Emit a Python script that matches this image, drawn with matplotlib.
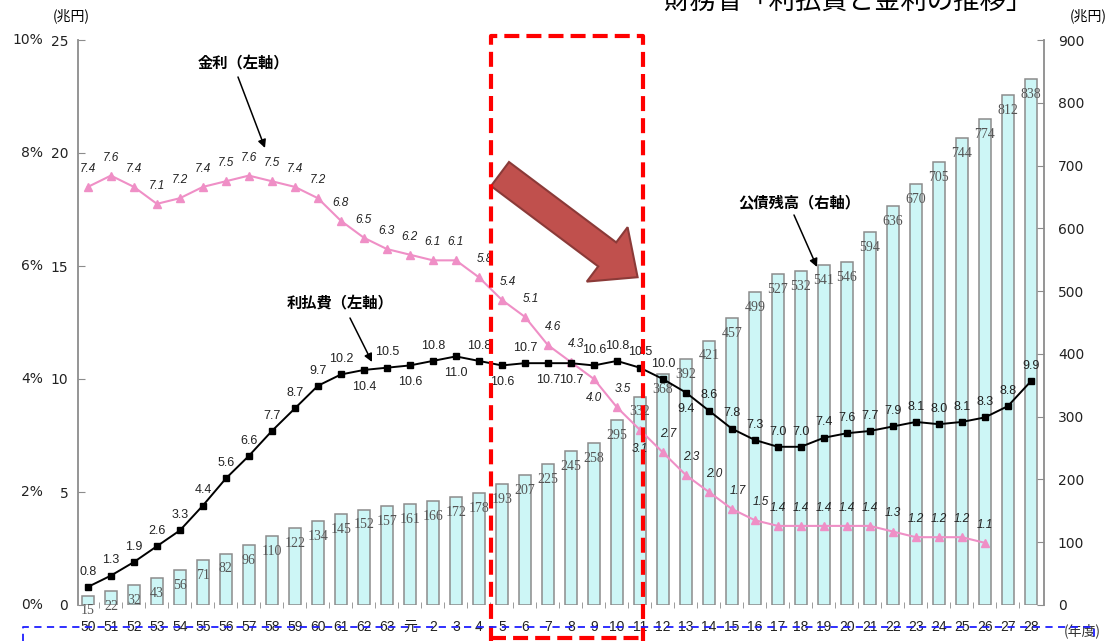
import numpy as np
import matplotlib
matplotlib.use("Agg")
import matplotlib.pyplot as plt
from matplotlib.lines import Line2D
from matplotlib.patches import FancyArrow

# fiscal years (Showa 50-63, Heisei 1-28)
years = [str(y) for y in range(50, 64)] + ["元"] + [str(y) for y in range(2, 29)]

# outstanding government bonds (trillion yen, right axis)
debt = [15, 22, 32, 43, 56, 71, 82, 96, 110, 122, 134, 145, 152, 157,
        161, 166, 172, 178, 193, 207, 225, 245, 258, 295, 332, 368, 392, 421,
        457, 499, 527, 532, 541, 546, 594, 636, 670, 705, 744, 774, 812, 838]

# interest payments (trillion yen, left axis)
interest_paid = [0.8, 1.3, 1.9, 2.6, 3.3, 4.4, 5.6, 6.6, 7.7, 8.7, 9.7, 10.2, 10.4, 10.5,
                 10.6, 10.8, 11.0, 10.8, 10.6, 10.7, 10.7, 10.7, 10.6, 10.8, 10.5, 10.0,
                 9.4, 8.6, 7.8, 7.3, 7.0, 7.0, 7.4, 7.6, 7.7, 7.9, 8.1, 8.0, 8.1, 8.3,
                 8.8, 9.9]

# interest rate (%), plotted on the left axis where 10% == 25 trillion yen
rate = [7.4, 7.6, 7.4, 7.1, 7.2, 7.4, 7.5, 7.6, 7.5, 7.4, 7.2, 6.8, 6.5, 6.3,
        6.2, 6.1, 6.1, 5.8, 5.4, 5.1, 4.6, 4.3, 4.0, 3.5, 3.1, 2.7, 2.3, 2.0,
        1.7, 1.5, 1.4, 1.4, 1.4, 1.4, 1.4, 1.3, 1.2, 1.2, 1.2, 1.1]

left_ticks = [0, 5, 10, 15, 20, 25]
pct_labels = ["0%", "2%", "4%", "6%", "8%", "10%"]
right_ticks = [0, 100, 200, 300, 400, 500, 600, 700, 800, 900]

# labels drawn under the marker instead of above it
paid_below = {12, 14, 16, 18, 20, 21, 26}
rate_below = {22, 24}

W, H = 1106, 641
JP = ["Noto Sans CJK JP", "DejaVu Sans"]
NUM = ["Liberation Sans", "Noto Sans CJK JP"]

fig = plt.figure(figsize=(W / 100, H / 100), dpi=100)
ax = fig.add_axes([78 / W, (H - 605) / H, 966 / W, 565 / H])

x = np.arange(len(years))
rate_val = np.array(rate) * 2.5  # % -> left-axis units

# bars on the right-hand scale
ax.bar(x, debt, width=0.5, color="#cdf6f6", edgecolor="#8c8c8c", linewidth=1.1, zorder=2)
for xi, v in zip(x, debt):
    ax.annotate(str(v), (xi, v), xytext=(0, -11), textcoords="offset points",
                ha="center", va="center", fontsize=10, family="Liberation Serif",
                color="#555555", zorder=3)

ax.set_xlim(-0.43, 41.57)
ax.set_ylim(0, 900)
ax.set_xticks(x)
ax.set_xticklabels(years, family=NUM, fontsize=10, color="#222222")
ax.tick_params(axis="x", which="major", length=0, pad=11)
ax.set_xticks(x[:-1] + 0.5, minor=True)
ax.tick_params(axis="x", which="minor", direction="inout", length=5, color="#8c8c8c")

# lines on the left-hand scale
axL = ax.twinx()
axL.yaxis.tick_left()
axL.set_ylim(0, 25)
axL.set_yticks(left_ticks)
axL.tick_params(axis="y", direction="in", length=5, color="#8c8c8c", pad=7,
                labelsize=10, labelcolor="#222222")
for s in ["right", "top", "bottom"]:
    axL.spines[s].set_visible(False)
axL.spines["left"].set_color("#8c8c8c")
axL.spines["left"].set_linewidth(1.3)
for v, lab in zip(left_ticks, pct_labels):
    axL.text(-35 / 966, v, lab, transform=axL.get_yaxis_transform(), ha="right",
             va="center", fontsize=10, color="#222222")

# right axis belongs to the bars
ax.yaxis.tick_right()
ax.yaxis.set_label_position("right")
ax.set_yticks(right_ticks)
ax.tick_params(axis="y", direction="in", length=5, color="#8c8c8c", pad=10,
               labelsize=10, labelcolor="#222222")
for s in ["left", "top", "bottom"]:
    ax.spines[s].set_visible(False)
ax.spines["right"].set_color("#8c8c8c")
ax.spines["right"].set_linewidth(1.3)

axL.plot(x[:len(rate)], rate_val, color="#ef8fc6", lw=1.5, marker="^", ms=6, zorder=4)
for i, (xi, v) in enumerate(zip(x, rate_val)):
    dy = -14 if i in rate_below else 13
    dx = 4 if 17 <= i <= 29 and i not in rate_below else 0
    axL.annotate(f"{rate[i]:.1f}", (xi, v), xytext=(dx, dy), textcoords="offset points",
                 ha="center", va="center", fontsize=8.5, style="italic",
                 family="Liberation Sans", color="#222222", zorder=5)

axL.plot(x, interest_paid, color="black", lw=1.4, marker="s", ms=5, zorder=4)
for i, (xi, v) in enumerate(zip(x, interest_paid)):
    dy = -12 if i in paid_below else 11
    axL.annotate(f"{v:.1f}", (xi, v), xytext=(0, dy), textcoords="offset points",
                 ha="center", va="center", fontsize=9, family="Liberation Sans",
                 color="#222222", zorder=5)


def fpx(px, py):
    # image-style pixel position (origin top-left) -> figure pixels
    return (px, H - py)


# series call-outs
callouts = [("金利（左軸）", (243, 62), (238, 77), (265, 148)),
            ("利払費（左軸）", (340, 302), (350, 318), (372, 362)),
            ("公債残高（右軸）", (799, 202), (794, 215), (817, 267))]
for text, tpos, a0, a1 in callouts:
    fig.text(tpos[0] / W, 1 - tpos[1] / H, text, ha="center", va="center",
             fontsize=11, weight="bold", family=JP)
    axL.annotate("", xy=fpx(*a1), xycoords="figure pixels", xytext=fpx(*a0),
                 textcoords="figure pixels", annotation_clip=False,
                 arrowprops=dict(arrowstyle="-|>", color="black", lw=1.1,
                                 mutation_scale=12, shrinkA=0, shrinkB=0))

# unit captions and title
fig.text(71 / W, 1 - 16 / H, "(兆円)", ha="center", va="center", fontsize=10, family=JP)
fig.text(1070 / W, 1 - 16 / H, "(兆円)", ha="left", va="center", fontsize=10, family=JP)
fig.text(1064 / W, 1 - 631 / H, "(年度)", ha="left", va="center", fontsize=10, family=JP,
         color="#333333")
fig.text(848 / W, 1 - 1 / H, "財務省「利払費と金利の推移」", ha="center", va="center",
         fontsize=19, family=JP)

# red dashed highlight box
box_x = [491, 491, 643, 643]
box_y = [641, 36, 36, 641]
fig.add_artist(Line2D([v / W for v in box_x], [1 - v / H for v in box_y],
                      transform=fig.transFigure, color="#ff0000", lw=3,
                      dashes=(3.6, 1.7), zorder=10))
fig.add_artist(Line2D([491 / W, 643 / W], [1 - 638 / H] * 2, transform=fig.transFigure,
                      color="#ff0000", lw=3, dashes=(3.6, 1.7), zorder=10))

# big down-right arrow
fig.add_artist(FancyArrow(5.00, 4.67, 1.376, -1.032, width=0.30, head_width=0.68,
                          head_length=0.38, length_includes_head=True,
                          transform=fig.dpi_scale_trans, facecolor="#c0504d",
                          edgecolor="#8b3a38", lw=1.5, zorder=9))

# blue dashed frame along the bottom
fig.add_artist(Line2D([23 / W, 23 / W, 1094 / W, 1094 / W],
                      [0, 1 - 627 / H, 1 - 627 / H, 0], transform=fig.transFigure,
                      color="#1f1fff", lw=1.3, dashes=(4, 3), zorder=10))

fig.savefig("out.png", dpi=100)
